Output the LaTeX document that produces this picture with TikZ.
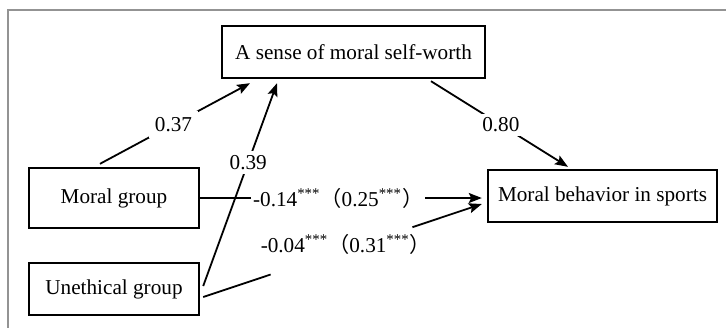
\documentclass[tikz,border=0pt]{standalone}
\usepackage{fontspec}
\setmainfont{Liberation Serif}
\newfontfamily\cjk{Noto Sans CJK SC}
\usetikzlibrary{arrows.meta,calc}
\begin{document}
\begin{tikzpicture}[x=0.5pt,y=-0.5pt,
  every node/.style={font=\fontsize{10.6pt}{12pt}\selectfont},
  box/.style={draw,line width=1.2pt,inner sep=0pt},
  conn/.style={line width=0.9pt,-{Stealth[length=6.5pt,width=5pt,inset=1.2pt]}},
  seg/.style={line width=0.9pt},
  lab/.style={fill=white,inner sep=3pt},
  frame/.style={draw=gray!85,line width=1pt}
]
\useasboundingbox (0,0) rectangle (726,328);
\draw[frame] (726,10) -- (8,10) -- (8,328);

\node[box,minimum width=131.5pt,minimum height=26pt] (sw) at (353.5,52) {A sense of moral self-worth};
\node[box,minimum width=85pt,minimum height=30pt] (mg) at (114,198) {Moral group};
\node[box,minimum width=85pt,minimum height=26pt] (ug) at (114,289) {Unethical group};
\node[box,minimum width=114.5pt,minimum height=26pt] (mb) at (602.5,196) {Moral behavior in sports};

% Moral group -> self-worth
\draw[conn] ([xshift=-7pt,yshift=1.5pt]mg.north) -- node[lab,pos=0.49] {0.37} ([xshift=-51.75pt,yshift=-2pt]sw.south);
% Unethical group -> self-worth
\draw[conn] ([xshift=1.5pt,yshift=1.5pt]ug.east) -- node[lab,pos=0.61,inner sep=2pt] {0.39} ([xshift=-38.25pt,yshift=-2pt]sw.south);
% self-worth -> moral behavior
\draw[conn] ([xshift=38.75pt,yshift=-1pt]sw.south) -- node[lab,pos=0.51,inner sep=2pt] {0.80} ([xshift=-17.25pt,yshift=1pt]mb.north);
% Moral group -> moral behavior
\draw[conn] (mg.east) -- node[lab,pos=0.49,inner sep=1pt] {-0.14\textsuperscript{***}{\cjk （}0.25\textsuperscript{***}{\cjk ）}} ([xshift=-2.5pt]mg.east -| mb.west);
% Unethical group -> moral behavior (broken line, label above)
\path ([xshift=1.5pt,yshift=-4pt]ug.east) coordinate (u0) -- ([xshift=-2.5pt,yshift=-4pt]mb.west) coordinate (u1)
  coordinate[pos=0.242] (g1) coordinate[pos=0.751] (g2)
  node[pos=0.512,yshift=2.5pt] (l5) {-0.04\textsuperscript{***}{\cjk （}0.31\textsuperscript{***}{\cjk ）}};
\draw[seg] (u0) -- (g1);
\draw[conn] (g2) -- (u1);
\end{tikzpicture}
\end{document}
